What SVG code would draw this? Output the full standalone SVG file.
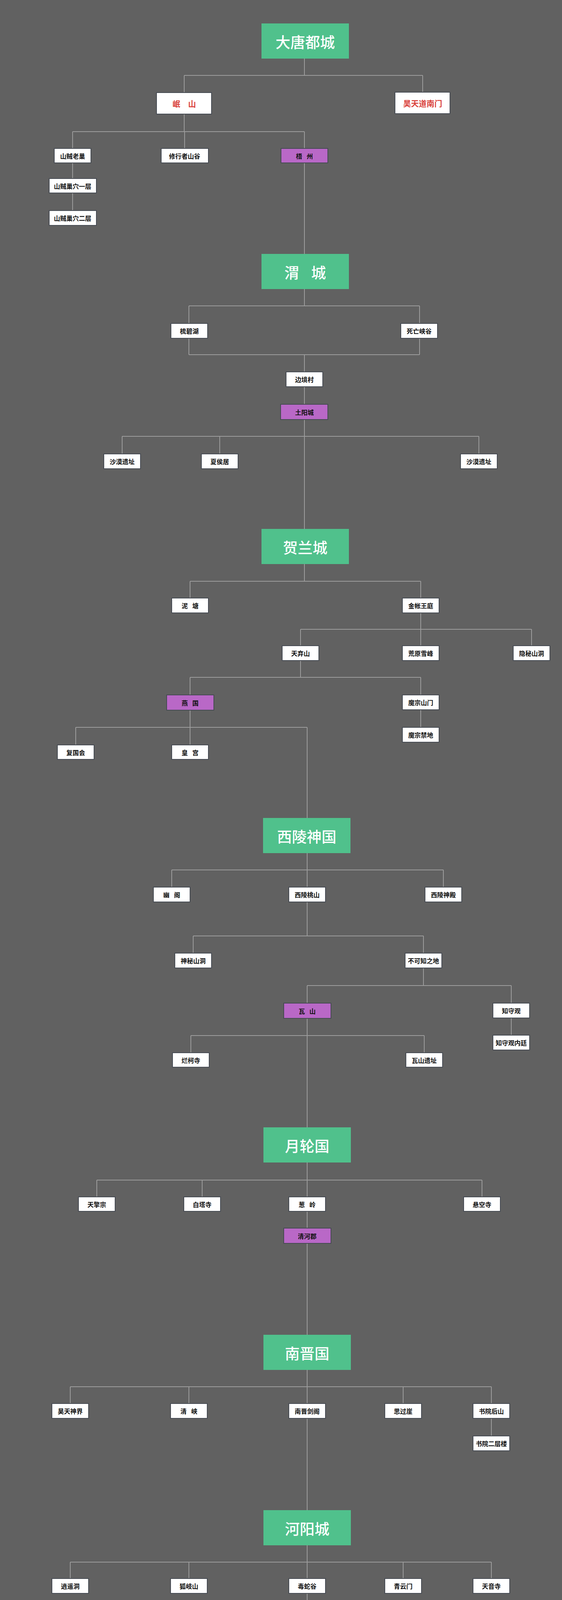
<svg xmlns="http://www.w3.org/2000/svg" width="1440" height="4936" viewBox="0 0 1440 4936">
<defs>
<style>
.bg{fill:#616161}
.n{fill:#ffffff;stroke:#464b53;stroke-width:2}
.p{fill:#b968c7;stroke:#464b53;stroke-width:2}
.t{fill:#50c18c}
.c{fill:none;stroke:#9c9c9c;stroke-width:2}
text{font-family:"Noto Sans CJK SC","Noto Sans CJK JP",sans-serif;text-anchor:middle;dominant-baseline:central}
.l{font-size:16px;font-weight:700;fill:#111}
.r{font-size:20px;font-weight:700;fill:#d9403a}
.h{font-size:38px;font-weight:500;fill:#ffffff}
.sp{word-spacing:8px}
.hs{word-spacing:22px}
.wm{font-size:40px;font-weight:500;fill:#ffffff;text-anchor:start;dominant-baseline:alphabetic}
</style>
<filter id="sh" x="-5%" y="-30%" width="110%" height="160%">
<feDropShadow dx="2" dy="2" stdDeviation="1.5" flood-color="#222" flood-opacity="0.8"/>
</filter>
</defs>
<rect class="bg" x="0" y="0" width="1440" height="4936"/>
<g id="connectors">
<path class="c" d="M780 150V193 M472 193H1083 M472 193V237 M1083 193V236
M472 292V337 M186 337H780 M186 337V380 M473 337V380 M780 337V380
M186 417V457 M186 494V539 M780 417V650
M780 740V783 M484 783H1075 M484 783V828 M1075 783V828
M484 866V908 M1075 866V908 M484 908H1075 M780 908V952
M780 990V1035 M780 1074V1354
M313 1117H1227 M313 1117V1162 M563 1117V1162 M1227 1117V1162
M780 1444V1488 M487 1488H1078 M487 1488V1531 M1078 1488V1531
M1078 1569V1611 M770 1611H1362 M770 1611V1653 M1078 1611V1653 M1362 1611V1653
M770 1691V1734 M487 1734H1078 M487 1734V1779 M1078 1734V1779
M1078 1817V1862
M487 1818V1862 M194 1862H787 M194 1862V1907 M487 1862V1907 M787 1862V2094
M787 2184V2227 M440 2227H1136 M440 2227V2271 M787 2227V2271 M1136 2227V2271
M787 2309V2396 M495 2396H1085 M495 2396V2440 M1085 2396V2440
M1085 2478V2523 M787 2523H1310 M787 2523V2568 M1310 2523V2568
M1310 2606V2650
M787 2607V2886 M489 2651H1087 M489 2651V2695 M1087 2651V2695
M787 2976V3021 M248 3021H1235 M248 3021V3064 M518 3021V3064 M787 3021V3064 M1235 3021V3064
M787 3101V3144 M787 3183V3417
M787 3507V3550 M180 3550H1259 M180 3550V3593 M484 3550V3593 M787 3550V3593 M1033 3550V3593 M1259 3550V3593
M1259 3631V3676 M787 3631V3866
M787 3956V3999 M180 3999H1259 M180 3999V4041 M484 3999V4041 M787 3999V4041 M1033 3999V4041 M1259 3999V4041
M787 4079V4124 M787 4163V4398
M787 4488V4531 M180 4531H1259 M180 4531V4572 M484 4531V4572 M787 4531V4572 M1033 4531V4572 M1259 4531V4572"/>
</g>

<g id="n-datang"><rect class="t" x="670" y="60" width="224" height="90"/><text class="h" x="782" y="105">大唐都城</text></g>
<g id="n-minshan"><rect class="n" x="401" y="237" width="141" height="55"/><text class="r" x="472" y="265">岷　山</text></g>
<g id="n-haotian-nanmen"><rect class="n" x="1012" y="236" width="141" height="55"/><text class="r" x="1083" y="264">昊天道南门</text></g>
<g id="n-shanzei-laochao"><rect class="n" x="139" y="380" width="94" height="37"/><text class="l" x="186" y="399">山贼老巢</text></g>
<g id="n-xiuxingzhe"><rect class="n" x="413" y="380" width="121" height="37"/><text class="l" x="473" y="399">修行者山谷</text></g>
<g id="n-wuzhou"><rect class="p" x="720" y="380" width="120" height="37"/><text class="l sp" x="780" y="399">梧 州</text></g>
<g id="n-chaoxue1"><rect class="n" x="126" y="457" width="121" height="37"/><text class="l" x="186" y="476">山贼巢穴一层</text></g>
<g id="n-chaoxue2"><rect class="n" x="126" y="539" width="121" height="38"/><text class="l" x="186" y="558">山贼巢穴二层</text></g>

<g id="n-weicheng"><rect class="t" x="670" y="650" width="224" height="90"/><text class="h hs" x="782" y="695">渭 城</text></g>
<g id="n-shubihu"><rect class="n" x="438" y="828" width="94" height="38"/><text class="l" x="485" y="847">梳碧湖</text></g>
<g id="n-siwang"><rect class="n" x="1027" y="828" width="94" height="38"/><text class="l" x="1074" y="847">死亡峡谷</text></g>
<g id="n-bianjing"><rect class="n" x="733" y="952" width="94" height="38"/><text class="l" x="780" y="971">边境村</text></g>
<g id="n-tuyang"><rect class="p" x="719" y="1035" width="121" height="39"/><text class="l" x="780" y="1055">土阳城</text></g>
<g id="n-shamo1"><rect class="n" x="266" y="1162" width="94" height="38"/><text class="l" x="313" y="1181">沙漠遗址</text></g>
<g id="n-xiahou"><rect class="n" x="516" y="1162" width="94" height="38"/><text class="l" x="563" y="1181">夏侯居</text></g>
<g id="n-shamo2"><rect class="n" x="1180" y="1162" width="94" height="38"/><text class="l" x="1227" y="1181">沙漠遗址</text></g>

<g id="n-helan"><rect class="t" x="670" y="1354" width="224" height="90"/><text class="h" x="782" y="1399">贺兰城</text></g>
<g id="n-nitang"><rect class="n" x="440" y="1531" width="94" height="38"/><text class="l sp" x="487" y="1550">泥 塘</text></g>
<g id="n-jinzhang"><rect class="n" x="1031" y="1531" width="94" height="38"/><text class="l" x="1078" y="1550">金帐王庭</text></g>
<g id="n-tianqi"><rect class="n" x="723" y="1653" width="94" height="38"/><text class="l" x="770" y="1672">天弃山</text></g>
<g id="n-huangyuan"><rect class="n" x="1031" y="1653" width="94" height="38"/><text class="l" x="1078" y="1672">荒原雪峰</text></g>
<g id="n-yinmi"><rect class="n" x="1315" y="1653" width="94" height="38"/><text class="l" x="1362" y="1672">隐秘山洞</text></g>
<g id="n-yanguo"><rect class="p" x="427" y="1779" width="121" height="39"/><text class="l sp" x="487" y="1799">燕 国</text></g>
<g id="n-mozong-shanmen"><rect class="n" x="1031" y="1779" width="94" height="38"/><text class="l" x="1078" y="1798">魔宗山门</text></g>
<g id="n-mozong-jindi"><rect class="n" x="1031" y="1862" width="94" height="38"/><text class="l" x="1078" y="1881">魔宗禁地</text></g>
<g id="n-fuguohui"><rect class="n" x="147" y="1907" width="94" height="37"/><text class="l" x="194" y="1926">复国会</text></g>
<g id="n-huanggong"><rect class="n" x="440" y="1907" width="94" height="37"/><text class="l sp" x="487" y="1926">皇 宫</text></g>

<g id="n-xiling"><rect class="t" x="674" y="2094" width="224" height="90"/><text class="h" x="786" y="2139">西陵神国</text></g>
<g id="n-youge"><rect class="n" x="393" y="2271" width="94" height="38"/><text class="l sp" x="440" y="2290">幽 阁</text></g>
<g id="n-taoshan"><rect class="n" x="740" y="2271" width="94" height="38"/><text class="l" x="787" y="2290">西陵桃山</text></g>
<g id="n-shendian"><rect class="n" x="1089" y="2271" width="94" height="38"/><text class="l" x="1136" y="2290">西陵神殿</text></g>
<g id="n-shenmi"><rect class="n" x="448" y="2440" width="94" height="38"/><text class="l" x="495" y="2459">神秘山洞</text></g>
<g id="n-bukezhi"><rect class="n" x="1038" y="2440" width="94" height="38"/><text class="l" x="1085" y="2459">不可知之地</text></g>
<g id="n-washan"><rect class="p" x="727" y="2568" width="121" height="39"/><text class="l sp" x="787" y="2588">瓦 山</text></g>
<g id="n-zhishouguan"><rect class="n" x="1263" y="2568" width="94" height="38"/><text class="l" x="1310" y="2587">知守观</text></g>
<g id="n-zhishou-neiting"><rect class="n" x="1263" y="2650" width="94" height="38"/><text class="l" x="1310" y="2669">知守观内廷</text></g>
<g id="n-lanke"><rect class="n" x="442" y="2695" width="94" height="37"/><text class="l" x="489" y="2714">烂柯寺</text></g>
<g id="n-washan-yizhi"><rect class="n" x="1040" y="2695" width="94" height="37"/><text class="l" x="1087" y="2714">瓦山遗址</text></g>

<g id="n-yuelun"><rect class="t" x="675" y="2886" width="224" height="90"/><text class="h" x="787" y="2931">月轮国</text></g>
<g id="n-tianqing"><rect class="n" x="201" y="3064" width="94" height="37"/><text class="l" x="248" y="3083">天擎宗</text></g>
<g id="n-baita"><rect class="n" x="471" y="3064" width="94" height="37"/><text class="l" x="518" y="3083">白塔寺</text></g>
<g id="n-congling"><rect class="n" x="740" y="3064" width="94" height="37"/><text class="l sp" x="787" y="3083">葱 岭</text></g>
<g id="n-xuankong"><rect class="n" x="1188" y="3064" width="94" height="37"/><text class="l" x="1235" y="3083">悬空寺</text></g>
<g id="n-qinghe"><rect class="p" x="727" y="3144" width="121" height="39"/><text class="l" x="787" y="3164">清河郡</text></g>

<g id="n-nanjin"><rect class="t" x="675" y="3417" width="224" height="90"/><text class="h" x="787" y="3462">南晋国</text></g>
<g id="n-haotian-shenjie"><rect class="n" x="133" y="3593" width="94" height="38"/><text class="l" x="180" y="3612">昊天神界</text></g>
<g id="n-qingxia"><rect class="n" x="437" y="3593" width="94" height="38"/><text class="l sp" x="484" y="3612">清 峡</text></g>
<g id="n-jiange"><rect class="n" x="740" y="3593" width="94" height="38"/><text class="l" x="787" y="3612">南晋剑阁</text></g>
<g id="n-siguoya"><rect class="n" x="986" y="3593" width="94" height="38"/><text class="l" x="1033" y="3612">思过崖</text></g>
<g id="n-houshan"><rect class="n" x="1212" y="3593" width="94" height="38"/><text class="l" x="1259" y="3612">书院后山</text></g>
<g id="n-erceng"><rect class="n" x="1212" y="3676" width="94" height="38"/><text class="l" x="1259" y="3695">书院二层楼</text></g>

<g id="n-heyang"><rect class="t" x="675" y="3866" width="224" height="90"/><text class="h" x="787" y="3911">河阳城</text></g>
<g id="n-xiaoyao"><rect class="n" x="133" y="4041" width="94" height="38"/><text class="l" x="180" y="4060">逍遥洞</text></g>
<g id="n-huqi"><rect class="n" x="437" y="4041" width="94" height="38"/><text class="l" x="484" y="4060">狐岐山</text></g>
<g id="n-dushe"><rect class="n" x="740" y="4041" width="94" height="38"/><text class="l" x="787" y="4060">毒蛇谷</text></g>
<g id="n-qingyun"><rect class="n" x="986" y="4041" width="94" height="38"/><text class="l" x="1033" y="4060">青云门</text></g>
<g id="n-tianyin"><rect class="n" x="1212" y="4041" width="94" height="38"/><text class="l" x="1259" y="4060">天音寺</text></g>
<g id="n-fenxiang"><rect class="p" x="727" y="4124" width="121" height="39"/><text class="l" x="787" y="4144">焚香谷</text></g>

<g id="n-xihuang"><rect class="t" x="675" y="4398" width="224" height="90"/><text class="h" x="787" y="4443">羲皇城</text></g>
<g id="n-changsheng"><rect class="n" x="133" y="4572" width="94" height="38"/><text class="l" x="180" y="4591">长生堂</text></g>
<g id="n-lianxue"><rect class="n" x="437" y="4572" width="94" height="38"/><text class="l" x="484" y="4591">炼血堂</text></g>
<g id="n-shennong"><rect class="n" x="740" y="4572" width="94" height="38"/><text class="l" x="787" y="4591">神农殿</text></g>
<g id="n-manhuang"><rect class="n" x="986" y="4572" width="94" height="38"/><text class="l" x="1033" y="4591">蛮荒神殿</text></g>
<g id="n-hongmeng"><rect class="n" x="1212" y="4572" width="94" height="38"/><text class="l" x="1259" y="4591">鸿蒙古地</text></g>

<g id="watermark"><text class="wm" x="928" y="4886" textLength="472" lengthAdjust="spacingAndGlyphs" filter="url(#sh)">知乎 @裙基地200094084</text></g>
</svg>
